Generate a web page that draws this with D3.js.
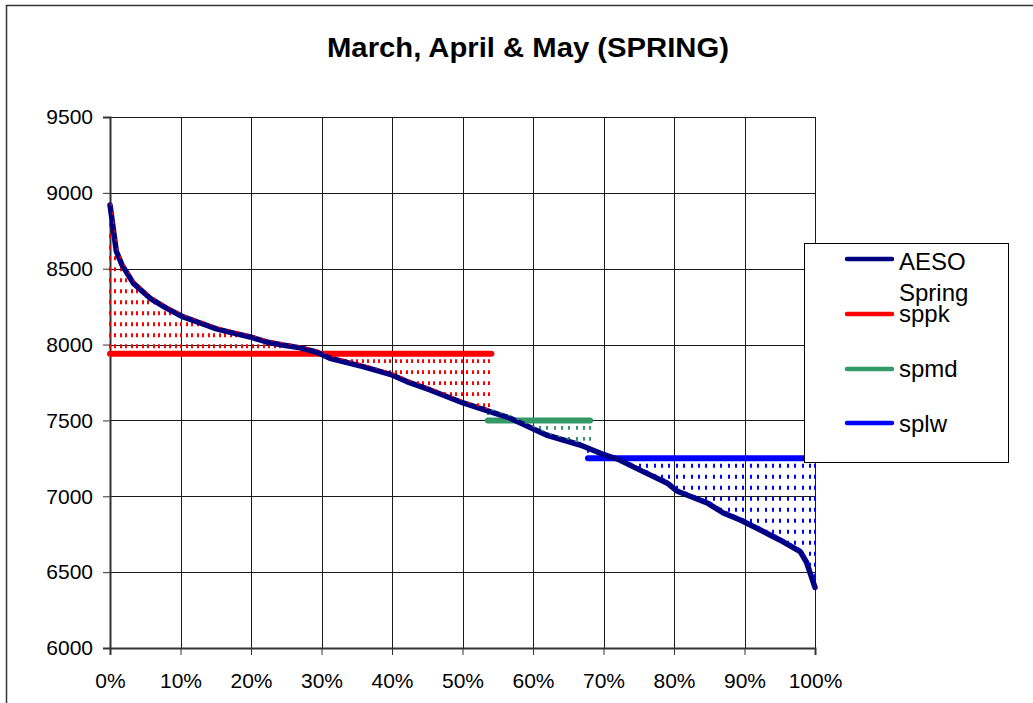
<!DOCTYPE html>
<html>
<head>
<meta charset="utf-8">
<script src="https://cdn.jsdelivr.net/npm/d3@7"></script>
<style>
  body { margin: 0; background: #fff; }
  svg { display: block; font-family: "Liberation Sans", Arial, sans-serif; }
</style>
</head>
<body>
<div id="chart"></div>
<script>
// load duration curve
var loadPct = [0, 0.9, 1.7, 3.3, 5.7, 8, 10.4, 12.8, 15.1, 17.4, 19.9, 22.2, 24.5, 27, 29.3,
  31.2, 35.9, 40, 42.1, 45.4, 50.1, 53.9, 56.7, 61.9, 66.7, 70, 72, 75.7, 79, 80.4,
  84.7, 87, 89.4, 91.7, 95, 97.9, 98.8, 100];
var loadMW = [8920, 8615, 8525, 8405, 8305, 8240, 8182, 8142, 8103, 8077, 8050, 8017, 7997, 7978, 7951,
  7910, 7855, 7800, 7756, 7701, 7615, 7558, 7516, 7404, 7338, 7275, 7245, 7161, 7088, 7035,
  6956, 6890, 6844, 6791, 6712, 6635, 6565, 6400];

// block levels
var blockNames = ["sppk", "spmd", "splw"];
var blockLevel = [7940, 7500, 7250];
var blockStart = [0, 53.6, 67.8];
var blockEnd = [54.1, 68.1, 100];
var blockColor = ["#ff0000", "#339966", "#0000ff"];
var blockDropStep = [0.78, 1.05, 1.05];

var yTicks = [6000, 6500, 7000, 7500, 8000, 8500, 9000, 9500];
var xTicks = [0, 10, 20, 30, 40, 50, 60, 70, 80, 90, 100];

var legendNames = ["AESO", "sppk", "spmd", "splw"];
var legendColors = ["#000080", "#ff0000", "#339966", "#0000ff"];

var width = 1033, height = 703;
var plotLeft = 110, plotRight = 815, plotTop = 117, plotBottom = 648;

var svg = d3.select("#chart").append("svg")
  .attr("width", width)
  .attr("height", height);

// chart area border
svg.append("rect")
  .attr("x", 6.5).attr("y", 5.5)
  .attr("width", 1100).attr("height", 800)
  .attr("fill", "#fff")
  .attr("stroke", "#333")
  .attr("stroke-width", 1.5);

var x = d3.scaleLinear().domain([0, 100]).range([plotLeft, plotRight]);
var y = d3.scaleLinear().domain([6000, 9500]).range([plotBottom, plotTop]);
var curveAt = d3.scaleLinear().domain(loadPct).range(loadMW);

svg.append("text")
  .attr("x", 528).attr("y", 57)
  .attr("text-anchor", "middle")
  .attr("font-size", 27.5)
  .attr("font-weight", "bold")
  .attr("textLength", 402)
  .attr("lengthAdjust", "spacingAndGlyphs")
  .text("March, April & May (SPRING)");

// grid
var grid = svg.append("g");
grid.selectAll(".hg").data(yTicks).enter().append("line")
  .attr("x1", plotLeft).attr("x2", plotRight)
  .attr("y1", d => Math.round(y(d)) + 0.5).attr("y2", d => Math.round(y(d)) + 0.5)
  .attr("stroke", "#1a1a1a").attr("stroke-width", 1);
grid.selectAll(".vg").data(xTicks).enter().append("line")
  .attr("y1", plotTop).attr("y2", plotBottom)
  .attr("x1", d => Math.round(x(d)) + 0.5).attr("x2", d => Math.round(x(d)) + 0.5)
  .attr("stroke", "#1a1a1a").attr("stroke-width", 1);

// axes
var yAxis = d3.axisLeft(y).tickValues(yTicks).tickSize(7).tickPadding(10).tickFormat(d3.format("d"));
var gy = svg.append("g").attr("transform", "translate(" + plotLeft + ",0)").call(yAxis);
var xAxis = d3.axisBottom(x).tickValues(xTicks).tickSize(7).tickPadding(18).tickFormat(d => d + "%");
var gx = svg.append("g").attr("transform", "translate(0," + plotBottom + ")").call(xAxis);
[gy, gx].forEach(function (g) {
  g.select(".domain").attr("stroke", "#333").attr("stroke-width", 2);
  g.selectAll(".tick line").attr("stroke", "#333");
  g.selectAll("text").attr("font-size", 21).attr("fill", "#000")
    .attr("font-family", "'Liberation Sans', Arial, sans-serif");
});
gx.selectAll("text").attr("dy", "0.71em");

// drop lines between block level and the curve
blockNames.forEach(function (name, i) {
  var pts = d3.range(blockStart[i], blockEnd[i] + 0.01, blockDropStep[i]);
  if (pts[pts.length - 1] < blockEnd[i] - 0.3) pts.push(blockEnd[i]);
  svg.append("g").selectAll("line").data(pts).enter().append("line")
    .attr("x1", d => Math.round(x(d))).attr("x2", d => Math.round(x(d)))
    .attr("y1", y(blockLevel[i]))
    .attr("y2", d => y(curveAt(d)))
    .attr("stroke", blockColor[i])
    .attr("stroke-width", 2)
    .attr("stroke-dasharray", "3.8,7.2")
    .attr("stroke-dashoffset", 5.5);
});

// block level lines
svg.append("g").selectAll("line").data(blockNames).enter().append("line")
  .attr("x1", (d, i) => x(blockStart[i]))
  .attr("x2", (d, i) => x(blockEnd[i]))
  .attr("y1", (d, i) => y(blockLevel[i]))
  .attr("y2", (d, i) => y(blockLevel[i]))
  .attr("stroke", (d, i) => blockColor[i])
  .attr("stroke-width", 6)
  .attr("stroke-linecap", "round");

// AESO curve
var line = d3.line()
  .x(d => x(d[0]))
  .y(d => y(d[1]));
var loadData = loadPct.map((p, i) => [p, loadMW[i]]);
svg.append("path")
  .datum(loadData)
  .attr("fill", "none")
  .attr("stroke", "#000080")
  .attr("stroke-width", 5.5)
  .attr("stroke-linejoin", "round")
  .attr("stroke-linecap", "round")
  .attr("d", line);

// thin block-coloured marks along the curve
blockNames.forEach(function (name, i) {
  var seg = loadData.filter(d => d[0] >= blockStart[i] && d[0] <= blockEnd[i]);
  svg.append("path")
    .datum(seg)
    .attr("fill", "none")
    .attr("stroke", blockColor[i])
    .attr("stroke-width", 1.2)
    .attr("stroke-dasharray", "3,6")
    .attr("transform", "translate(1,-2)")
    .attr("d", line);
});

// legend
var legend = svg.append("g");
legend.append("rect")
  .attr("x", 804.5).attr("y", 243.5)
  .attr("width", 204).attr("height", 219)
  .attr("fill", "#fff").attr("stroke", "#000").attr("stroke-width", 1);
var legendY = [259, 314, 369, 423];
var legendTextY = [270, 322, 377, 432];
legend.selectAll(".ll").data(legendNames).enter().append("line")
  .attr("x1", 847).attr("x2", 892)
  .attr("y1", (d, i) => legendY[i]).attr("y2", (d, i) => legendY[i])
  .attr("stroke", (d, i) => legendColors[i])
  .attr("stroke-width", 4.5)
  .attr("stroke-linecap", "round");
legend.selectAll(".lt").data(legendNames).enter().append("text")
  .attr("x", 899).attr("y", (d, i) => legendTextY[i])
  .attr("font-size", 24)
  .text(d => d);
legend.append("text")
  .attr("x", 899).attr("y", 301)
  .attr("font-size", 24)
  .text("Spring");
</script>
</body>
</html>
